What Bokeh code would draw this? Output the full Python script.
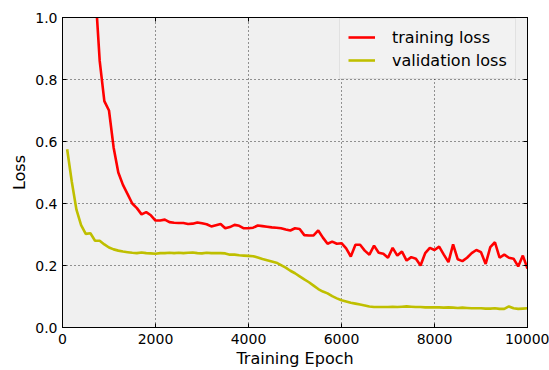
from bokeh.plotting import figure
from bokeh.models import (Range1d, FixedTicker, LinearAxis, Legend, LegendItem,
                          NumeralTickFormatter, CustomLabelingPolicy)
from bokeh.embed import file_html
from bokeh.resources import INLINE

# ---- data ----
train_epochs = list(range(700, 10001, 100))
train_loss = [
    1.10, 0.86, 0.73, 0.70, 0.58, 0.50, 0.46, 0.43, 0.40, 0.385,
    0.365, 0.372, 0.362, 0.345, 0.345, 0.348, 0.340, 0.338, 0.337, 0.337,
    0.334, 0.335, 0.339, 0.336, 0.333, 0.326, 0.330, 0.334, 0.320, 0.324,
    0.331, 0.328, 0.320, 0.320, 0.322, 0.329, 0.327, 0.325, 0.323, 0.322,
    0.320, 0.316, 0.313, 0.320, 0.318, 0.298, 0.297, 0.297, 0.313, 0.290,
    0.270, 0.277, 0.270, 0.272, 0.255, 0.229, 0.267, 0.267, 0.248, 0.235,
    0.264, 0.241, 0.238, 0.225, 0.257, 0.232, 0.245, 0.216, 0.227, 0.222,
    0.200, 0.240, 0.257, 0.250, 0.261, 0.235, 0.211, 0.268, 0.220, 0.214,
    0.225, 0.240, 0.250, 0.243, 0.205, 0.259, 0.275, 0.225, 0.235, 0.225,
    0.222, 0.197, 0.232, 0.190,
]
val_epochs = list(range(100, 10001, 100))
val_loss = [
    0.575, 0.47, 0.38, 0.33, 0.302, 0.304, 0.28, 0.28, 0.268, 0.258,
    0.252, 0.248, 0.245, 0.243, 0.241, 0.240, 0.242, 0.240, 0.239, 0.238,
    0.240, 0.240, 0.241, 0.240, 0.241, 0.240, 0.241, 0.242, 0.240, 0.239,
    0.241, 0.240, 0.240, 0.240, 0.239, 0.235, 0.235, 0.233, 0.232, 0.231,
    0.230, 0.226, 0.221, 0.217, 0.213, 0.209, 0.201, 0.193, 0.183, 0.175,
    0.165, 0.155, 0.146, 0.135, 0.124, 0.116, 0.110, 0.101, 0.094, 0.088,
    0.084, 0.080, 0.077, 0.074, 0.071, 0.068, 0.066, 0.066, 0.066, 0.066,
    0.067, 0.066, 0.067, 0.068, 0.067, 0.066, 0.066, 0.065, 0.065, 0.065,
    0.065, 0.064, 0.065, 0.064, 0.063, 0.064, 0.063, 0.062, 0.062, 0.062,
    0.061, 0.061, 0.062, 0.060, 0.060, 0.068, 0.062, 0.060, 0.061, 0.062,
]
x_ticks = [0, 2000, 4000, 6000, 8000, 10000]
y_ticks = [0.0, 0.2, 0.4, 0.6, 0.8, 1.0]
series_names = ["training loss", "validation loss"]

FONT = "DejaVu Sans"

p = figure(width=549, height=370, output_backend="svg", toolbar_location=None,
           x_range=Range1d(0, 10000), y_range=Range1d(0, 1.0),
           min_border_left=62, min_border_right=22, min_border_top=17, min_border_bottom=43,
           background_fill_color="#f0f0f0", border_fill_color="white")
p.outline_line_color = "black"
p.outline_line_width = 1

for ax in [p.xaxis[0], p.yaxis[0]]:
    ax.major_tick_in = 4
    ax.major_tick_out = 0
    ax.minor_tick_in = 0
    ax.minor_tick_out = 0
    ax.axis_line_color = "black"
    ax.major_tick_line_color = "black"
    ax.major_label_text_font = FONT
    ax.major_label_text_font_size = "14px"
    ax.major_label_text_color = "black"
    ax.axis_label_text_font = FONT
    ax.axis_label_text_font_size = "16px"
    ax.axis_label_text_font_style = "normal"
    ax.axis_label_text_color = "black"

p.xaxis[0].ticker = FixedTicker(ticks=x_ticks)
p.yaxis[0].ticker = FixedTicker(ticks=y_ticks)
p.yaxis[0].formatter = NumeralTickFormatter(format="0.0")
p.xaxis[0].axis_label = "Training Epoch"
p.yaxis[0].axis_label = "Loss"
p.xaxis[0].major_label_standoff = 6
p.xaxis[0].axis_label_standoff = 2
p.yaxis[0].major_label_standoff = 5
p.yaxis[0].axis_label_standoff = 3

# top and right tick marks (no labels drawn)
no_labels = CustomLabelingPolicy(code="return new Set()")
top = LinearAxis(ticker=FixedTicker(ticks=x_ticks), major_label_policy=no_labels,
                 major_tick_in=4, major_tick_out=0, minor_tick_in=0, minor_tick_out=0,
                 major_label_standoff=0, axis_line_color="black")
right = LinearAxis(ticker=FixedTicker(ticks=y_ticks),
                   major_label_policy=CustomLabelingPolicy(code="return new Set()"),
                   major_tick_in=4, major_tick_out=0, minor_tick_in=0, minor_tick_out=0,
                   major_label_standoff=0, axis_line_color="black")
p.add_layout(top, "above")
p.add_layout(right, "right")

p.xgrid.ticker = FixedTicker(ticks=x_ticks)
p.ygrid.ticker = FixedTicker(ticks=y_ticks)
for g in [p.xgrid[0], p.ygrid[0]]:
    g.grid_line_color = "black"
    g.grid_line_dash = "1 3"
    g.grid_line_width = 1
    g.grid_line_alpha = 0.8

r1 = p.line(train_epochs, train_loss, line_color="#ff0000", line_width=2.6)
r2 = p.line(val_epochs, val_loss, line_color="#bfbf00", line_width=2.6)

legend = Legend(items=[LegendItem(label=series_names[0], renderers=[r1]),
                       LegendItem(label=series_names[1], renderers=[r2])],
                location=(277, 248))
legend.label_text_font = FONT
legend.label_text_font_size = "16px"
legend.label_text_color = "black"
legend.glyph_width = 27
legend.glyph_height = 20
legend.label_height = 20
legend.label_standoff = 17
legend.padding = 8
legend.spacing = 3
legend.margin = 0
legend.background_fill_color = "#f2f2f2"
legend.background_fill_alpha = 1.0
legend.border_line_color = "#d0d0d0"
legend.border_line_width = 1
p.add_layout(legend, "center")

open("out.html", "w").write(file_html(p, INLINE))
